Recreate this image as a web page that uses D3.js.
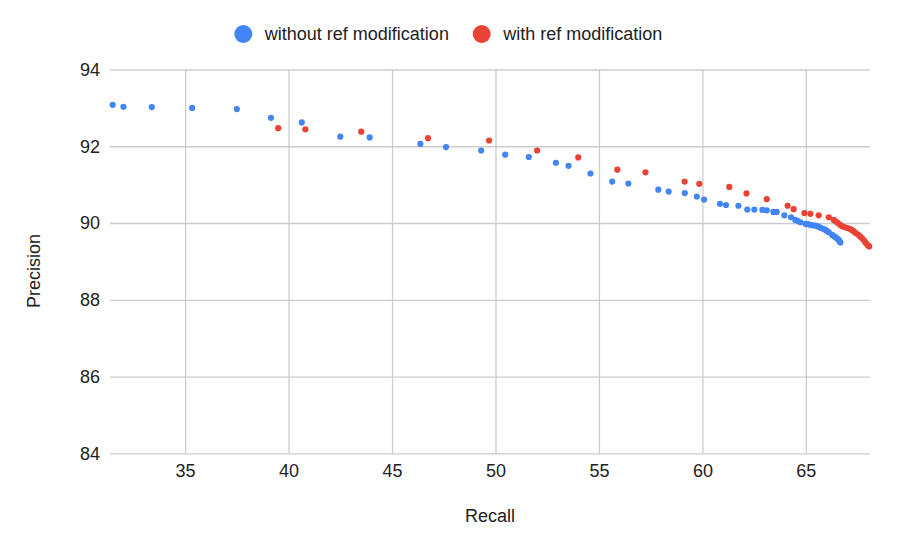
<!DOCTYPE html>
<html>
<head>
<meta charset="utf-8">
<script src="https://cdn.jsdelivr.net/npm/d3@7"></script>
<style>
  body { margin: 0; background: #fff; }
  text { font-family: "Liberation Sans", Arial, sans-serif; fill: #222; }
</style>
</head>
<body>
<div id="chart"></div>
<script>
const width = 897;
const height = 551;
const margin = {top: 69.5, right: 27, bottom: 97.7, left: 110};

// series: without ref modification
const blueRecall = [31.50, 32.02, 33.39, 35.34, 37.50, 39.15, 40.64, 42.50, 43.92, 46.37,
  47.61, 49.31, 50.47, 51.61, 52.92, 53.53, 54.59, 55.64, 56.42, 57.87,
  58.37, 59.15, 59.73, 60.08, 60.85, 61.14, 61.74, 62.17, 62.51, 62.90,
  63.11, 63.43, 63.59, 63.96, 64.28, 64.49, 64.62, 64.74, 64.98, 65.10,
  65.22, 65.34, 65.46, 65.58, 65.70, 65.83, 65.95, 66.02, 66.11, 66.27,
  66.35, 66.43, 66.50, 66.59, 66.63, 66.67];
const bluePrecision = [93.08, 93.03, 93.02, 93.00, 92.97, 92.74, 92.62, 92.25, 92.23, 92.06,
  91.98, 91.89, 91.78, 91.72, 91.57, 91.49, 91.29, 91.08, 91.03, 90.87,
  90.82, 90.78, 90.69, 90.61, 90.50, 90.47, 90.45, 90.35, 90.35, 90.34,
  90.33, 90.29, 90.29, 90.20, 90.15, 90.08, 90.05, 90.02, 89.98, 89.97,
  89.95, 89.94, 89.93, 89.91, 89.88, 89.85, 89.82, 89.79, 89.76, 89.69,
  89.66, 89.63, 89.60, 89.56, 89.52, 89.49];

// series: with ref modification
const redRecall = [39.50, 40.81, 43.51, 46.74, 49.69, 52.01, 54.00, 55.89, 57.25, 59.14,
  59.85, 61.30, 62.13, 63.11, 64.12, 64.41, 64.93, 65.22, 65.62, 66.11,
  66.35, 66.45, 66.55, 66.66, 66.77, 66.90, 67.01, 67.12, 67.22, 67.32,
  67.41, 67.52, 67.62, 67.72, 67.82, 67.90, 67.98, 68.06];
const redPrecision = [92.47, 92.44, 92.38, 92.21, 92.15, 91.89, 91.71, 91.39, 91.32, 91.08,
  91.02, 90.94, 90.77, 90.62, 90.45, 90.36, 90.26, 90.24, 90.20, 90.15,
  90.08, 90.04, 90.00, 89.95, 89.91, 89.89, 89.87, 89.85, 89.82, 89.78,
  89.74, 89.70, 89.65, 89.60, 89.54, 89.48, 89.43, 89.39];

const xTicks = [35, 40, 45, 50, 55, 60, 65];
const yTicks = [84, 86, 88, 90, 92, 94];

const seriesNames = ["without ref modification", "with ref modification"];
const colors = ["#4285f4", "#ea4335"];

const svg = d3.select('#chart')
  .append('svg')
  .attr('width', width)
  .attr('height', height);

const x = d3.scaleLinear()
  .domain([31.37, 68.1])
  .range([margin.left, width - margin.right]);

const y = d3.scaleLinear()
  .domain([84, 94])
  .range([height - margin.bottom, margin.top]);

// gridlines
svg.append("g")
  .attr("transform", "translate(0," + (height - margin.bottom) + ")")
  .call(d3.axisBottom(x).tickValues(xTicks)
    .tickSize(-(height - margin.bottom - margin.top))
    .tickSizeOuter(0).tickPadding(11).tickFormat(d3.format("d")))
  .call(g => g.select(".domain").remove())
  .call(g => g.selectAll(".tick line").attr("stroke", "#cccccc").attr("stroke-width", 1.3))
  .call(g => g.selectAll(".tick text").attr("font-size", 18).attr("font-family", "Liberation Sans, Arial, sans-serif").attr("fill", "#222"));

svg.append("g")
  .attr("transform", "translate(" + margin.left + ",0)")
  .call(d3.axisLeft(y).tickValues(yTicks)
    .tickSize(-(width - margin.right - margin.left))
    .tickSizeOuter(0).tickPadding(10).tickFormat(d3.format("d")))
  .call(g => g.select(".domain").remove())
  .call(g => g.selectAll(".tick line").attr("stroke", "#cccccc").attr("stroke-width", 1.3))
  .call(g => g.selectAll(".tick text").attr("font-size", 18).attr("font-family", "Liberation Sans, Arial, sans-serif").attr("fill", "#222"));

// points
function drawSeries(xs, ys, color) {
  svg.append("g")
    .selectAll("circle")
    .data(xs.map((d, i) => [d, ys[i]]))
    .enter()
    .append("circle")
    .attr("cx", d => x(d[0]))
    .attr("cy", d => y(d[1]))
    .attr("r", 3.1)
    .attr("fill", color);
}
drawSeries(blueRecall, bluePrecision, colors[0]);
drawSeries(redRecall, redPrecision, colors[1]);

// axis titles
svg.append("text")
  .attr("x", 490)
  .attr("y", 522)
  .attr("text-anchor", "middle")
  .attr("font-size", 18)
  .text("Recall");

svg.append("text")
  .attr("transform", "translate(40,271) rotate(-90)")
  .attr("text-anchor", "middle")
  .attr("font-size", 18)
  .text("Precision");

// legend
const legendX = [243.3, 481.7];
const legend = svg.append("g")
  .selectAll("g")
  .data(seriesNames)
  .enter()
  .append("g")
  .attr("transform", (d, i) => "translate(" + legendX[i] + ",34)");

legend.append("circle")
  .attr("r", 9)
  .attr("fill", (d, i) => colors[i]);

legend.append("text")
  .attr("x", 21.5)
  .attr("dy", "0.35em")
  .attr("font-size", 18)
  .text(d => d);
</script>
</body>
</html>
